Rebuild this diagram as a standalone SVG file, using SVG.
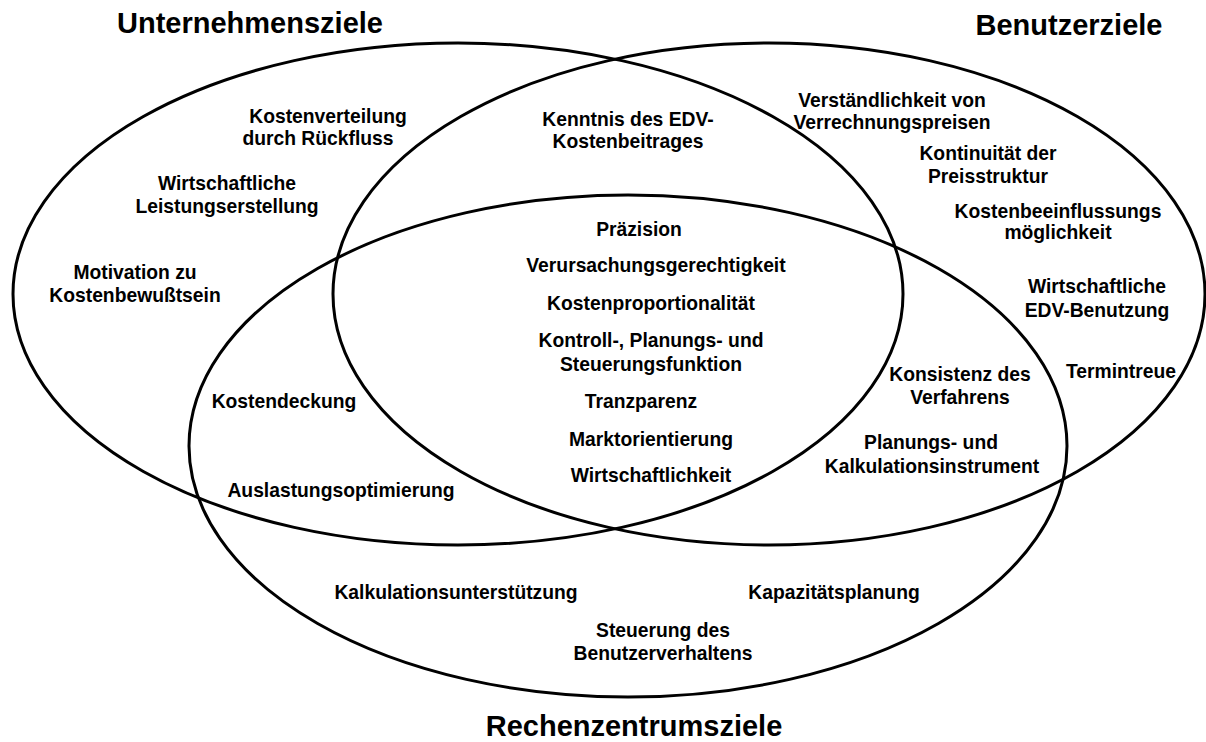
<svg xmlns="http://www.w3.org/2000/svg" width="1206" height="742" viewBox="0 0 1206 742">
  <style>
    .set { fill: none; stroke: #000; stroke-width: 3; }
    .title { font-family: "Liberation Sans", Arial, sans-serif; font-weight: bold; font-size: 29px; fill: #000; text-anchor: middle; }
    .lbl { font-family: "Liberation Sans", Arial, sans-serif; font-weight: bold; font-size: 19.3px; fill: #000; text-anchor: middle; }
  </style>
  <rect width="1206" height="742" fill="#fff"/>

  <!-- the three goal sets -->
  <g id="sets">
    <g id="set-unternehmen">
      <ellipse class="set" cx="458" cy="294" rx="445" ry="251"/>
      <text class="title" x="250" y="33">Unternehmensziele</text>
    </g>
    <g id="set-benutzer">
      <ellipse class="set" cx="769" cy="294" rx="436" ry="251"/>
      <text class="title" x="1069" y="35">Benutzerziele</text>
    </g>
    <g id="set-rechenzentrum">
      <ellipse class="set" cx="628" cy="446" rx="439" ry="251"/>
      <text class="title" x="634" y="736">Rechenzentrumsziele</text>
    </g>
  </g>

  <!-- Unternehmensziele only -->
  <g id="kostenverteilung"><text class="lbl" x="328" y="123">Kostenverteilung<tspan x="318" y="145">durch Rückfluss</tspan></text></g>
  <g id="wirtschaftliche-leistung"><text class="lbl" x="227" y="190">Wirtschaftliche<tspan x="227" y="213">Leistungserstellung</tspan></text></g>
  <g id="motivation"><text class="lbl" x="135" y="279">Motivation zu<tspan x="135" y="302">Kostenbewußtsein</tspan></text></g>

  <!-- Unternehmen + Benutzer -->
  <g id="kenntnis"><text class="lbl" x="628" y="126">Kenntnis des EDV-<tspan x="628" y="148">Kostenbeitrages</tspan></text></g>

  <!-- Benutzerziele only -->
  <g id="verstaendlichkeit"><text class="lbl" x="892" y="107">Verständlichkeit von<tspan x="892" y="129">Verrechnungspreisen</tspan></text></g>
  <g id="kontinuitaet"><text class="lbl" x="988" y="160">Kontinuität der<tspan x="988" y="183">Preisstruktur</tspan></text></g>
  <g id="kostenbeeinflussung"><text class="lbl" x="1058" y="218">Kostenbeeinflussungs<tspan x="1058" y="239">möglichkeit</tspan></text></g>
  <g id="edv-benutzung"><text class="lbl" x="1097" y="293">Wirtschaftliche<tspan x="1097" y="317">EDV-Benutzung</tspan></text></g>
  <g id="termintreue"><text class="lbl" x="1121" y="378">Termintreue</text></g>

  <!-- all three sets -->
  <g id="praezision"><text class="lbl" x="639" y="236">Präzision</text></g>
  <g id="verursachung"><text class="lbl" x="656" y="272">Verursachungsgerechtigkeit</text></g>
  <g id="proportionalitaet"><text class="lbl" x="651" y="310">Kostenproportionalität</text></g>
  <g id="kontrolle"><text class="lbl" x="651" y="347">Kontroll-, Planungs- und<tspan x="651" y="371">Steuerungsfunktion</tspan></text></g>
  <g id="tranzparenz"><text class="lbl" x="641" y="408">Tranzparenz</text></g>
  <g id="marktorientierung"><text class="lbl" x="651" y="446">Marktorientierung</text></g>
  <g id="wirtschaftlichkeit"><text class="lbl" x="651" y="482">Wirtschaftlichkeit</text></g>

  <!-- Unternehmen + Rechenzentrum -->
  <g id="kostendeckung"><text class="lbl" x="284" y="408">Kostendeckung</text></g>
  <g id="auslastung"><text class="lbl" x="341" y="497">Auslastungsoptimierung</text></g>

  <!-- Benutzer + Rechenzentrum -->
  <g id="konsistenz"><text class="lbl" x="960" y="381">Konsistenz des<tspan x="960" y="404">Verfahrens</tspan></text></g>
  <g id="planungsinstrument"><text class="lbl" x="931" y="449">Planungs- und<tspan x="932" y="473">Kalkulationsinstrument</tspan></text></g>

  <!-- Rechenzentrumsziele only -->
  <g id="kalkulation"><text class="lbl" x="456" y="599">Kalkulationsunterstützung</text></g>
  <g id="kapazitaet"><text class="lbl" x="834" y="599">Kapazitätsplanung</text></g>
  <g id="steuerung"><text class="lbl" x="663" y="637">Steuerung des<tspan x="663" y="660">Benutzerverhaltens</tspan></text></g>
</svg>
